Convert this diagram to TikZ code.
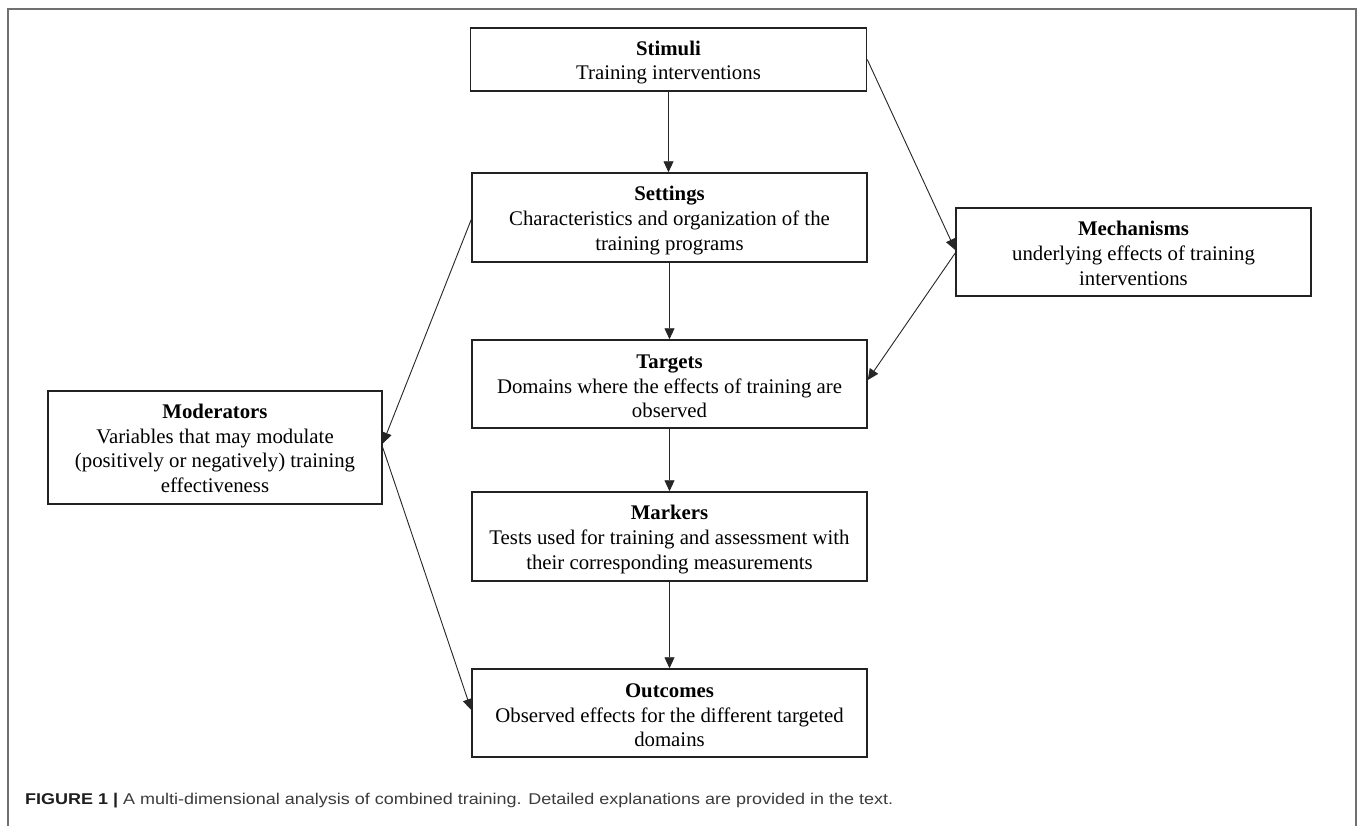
\documentclass[tikz,border=0pt]{standalone}
\usepackage{fontspec}
\usepackage{graphicx}
\setmainfont{Liberation Serif}
\newfontfamily\capfont{Liberation Sans}
\usetikzlibrary{arrows.meta}
\definecolor{framegray}{HTML}{707070}
\definecolor{boxline}{HTML}{222222}
\definecolor{capdark}{HTML}{1E1E1E}
\definecolor{captext}{HTML}{3C3C3C}
\tikzset{
  box/.style={draw=boxline, line width=1.5pt, rectangle, inner sep=0pt},
  boxtext/.style={align=center, inner sep=0pt,
    font=\fontsize{20.8}{24.7}\selectfont, text=black},
  conn/.style={draw=black!85, line width=0.9pt,
    -{Triangle[length=11pt,width=10pt]}},
}
\begin{document}
\begin{tikzpicture}[x=1pt,y=-1pt]
\useasboundingbox (0,0) rectangle (1357,825);
\fill[white] (0,0) rectangle (1357,825);
\draw[framegray, line width=1.6pt] (8,827) -- (8,9) -- (1356,9) -- (1356,827);

\node[box, minimum width=396pt, minimum height=63pt] (stim) at (668.5,59.5) {};
\node[boxtext] (stimT) at ([yshift=-3pt]stim.center)
  {\textbf{Stimuli}\\Training interventions};
\node[box, minimum width=395pt, minimum height=89pt] (set) at (669.5,217.5) {};
\node[boxtext] (setT) at ([yshift=-3pt]set.center)
  {\textbf{Settings}\\Characteristics and organization of the\\training programs};
\node[box, minimum width=355pt, minimum height=88pt] (mech) at (1133.5,252) {};
\node[boxtext] (mechT) at ([yshift=-1.5pt]mech.center)
  {\textbf{Mechanisms}\\underlying effects of training\\interventions};
\node[box, minimum width=395pt, minimum height=88pt] (targ) at (669.5,384) {};
\node[boxtext] (targT) at ([yshift=-2.5pt]targ.center)
  {\textbf{Targets}\\Domains where the effects of training are\\observed};
\node[box, minimum width=334pt, minimum height=113pt] (mod) at (215,447.5) {};
\node[boxtext] (modT) at ([yshift=-1pt]mod.center)
  {\textbf{Moderators}\\Variables that may modulate\\(positively or negatively) training\\effectiveness};
\node[box, minimum width=395pt, minimum height=89pt] (mark) at (669.5,536.5) {};
\node[boxtext] (markT) at ([yshift=-3pt]mark.center)
  {\textbf{Markers}\\Tests used for training and assessment with\\their corresponding measurements};
\node[box, minimum width=395pt, minimum height=88pt] (out) at (669.5,713) {};
\node[boxtext] (outT) at ([yshift=-2.5pt]out.center)
  {\textbf{Outcomes}\\Observed effects for the different targeted\\domains};

\draw[conn] (stim.south) -- (stim.south |- set.north);
\draw[conn] (set.south) -- (targ.north);
\draw[conn] (targ.south) -- (mark.north);
\draw[conn] (mark.south) -- (out.north);
\draw[conn] (stim.east) -- ([yshift=2pt]mech.west);
\draw[conn] ([yshift=-1pt]mech.west) -- ([yshift=4pt]targ.east);
\draw[conn] ([yshift=-2pt]set.west) -- ([yshift=4pt]mod.east);
\draw[conn] (mod.east) -- ([yshift=3pt]out.west);

\node[anchor=base west, inner sep=0pt] (cap) at (25,804)
  {\resizebox{868pt}{\height}{\capfont\fontsize{15.6}{18}\selectfont
   \textcolor{capdark}{\textbf{FIGURE 1 |}} \textcolor{captext}{A multi-dimensional analysis of combined training. Detailed explanations are provided in the text.}}};
\end{tikzpicture}
\end{document}
